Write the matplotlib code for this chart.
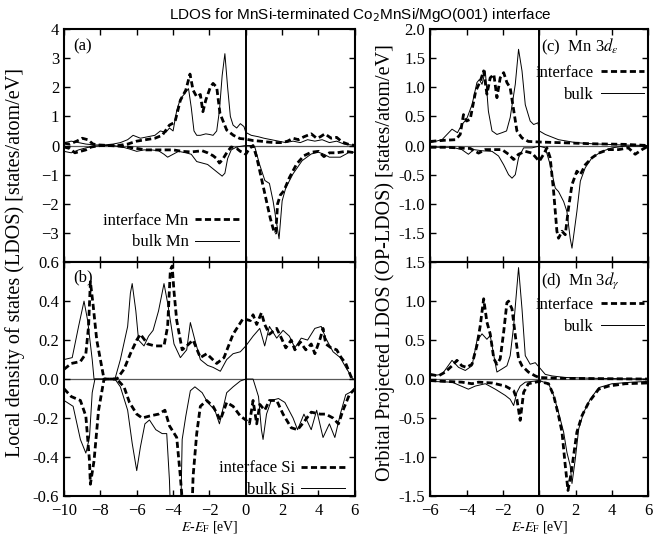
import matplotlib
matplotlib.use('Agg')
import matplotlib.pyplot as plt
import numpy as np

plt.rcParams['font.family'] = ['Liberation Serif', 'DejaVu Serif']
plt.rcParams['mathtext.fontset'] = 'stix'

# ---- (a) Mn LDOS ----
a_int_up_x = [-10, -9.7, -9.3, -9.0, -8.7, -8.4, -8.1, -7.5, -7.0, -6.5, -6.0, -5.5, -5.0, -4.6, -4.2, -3.9,
              -3.6, -3.3, -3.07, -2.9, -2.7, -2.5, -2.36, -2.2, -1.95, -1.8, -1.6, -1.42, -1.05, -0.68, -0.32,
              0.0, 0.4, 0.8, 1.2, 1.6, 2.0, 2.3, 2.6, 2.9, 3.2, 3.6, 3.9, 4.1, 4.35, 4.7, 5.0, 5.3, 5.6, 6.0]
a_int_up_y = [0.08, 0.05, 0.15, 0.25, 0.2, 0.05, 0.02, 0.0, 0.0, 0.05, 0.15, 0.2, 0.25, 0.35, 0.7, 0.8,
              1.55, 1.9, 2.45, 1.9, 1.67, 1.75, 1.16, 1.56, 2.0, 2.13, 2.0, 1.1, 0.53, 0.35, 0.24,
              0.22, 0.17, 0.15, 0.12, 0.1, 0.1, 0.15, 0.25, 0.2, 0.3, 0.4, 0.25, 0.3, 0.4, 0.25, 0.28, 0.12, 0.05, 0.0]
a_blk_up_x = [-10, -9.6, -9.2, -8.8, -8.3, -7.8, -7.3, -6.9, -6.5, -6.2, -5.8, -5.4, -5.0, -4.7, -4.4, -4.2,
              -4.0, -3.8, -3.6, -3.4, -3.15, -3.0, -2.85, -2.7, -2.5, -2.2, -2.0, -1.8, -1.6, -1.45, -1.3,
              -1.15, -1.0, -0.85, -0.7, -0.5, -0.3, -0.1, 0.0, 0.3, 0.7, 1.0, 1.4, 1.8, 2.2, 2.6, 3.0, 3.4,
              3.8, 4.2, 4.6, 5.0, 5.4, 5.8, 6.0]
a_blk_up_y = [0.1, 0.15, 0.1, 0.05, 0.02, 0.02, 0.05, 0.1, 0.2, 0.35, 0.25, 0.3, 0.35, 0.5, 0.45, 0.6,
              0.5, 1.2, 1.6, 1.75, 1.95, 1.3, 0.5, 0.35, 0.35, 0.4, 0.38, 0.35, 0.5, 1.2, 2.4,
              3.15, 2.0, 1.0, 0.7, 0.6, 0.75, 0.65, 0.45, 0.35, 0.3, 0.25, 0.2, 0.15, 0.1, 0.15, 0.1, 0.2,
              0.15, 0.2, 0.1, 0.15, 0.05, 0.02, 0.0]
a_int_dn_x = [-10, -9.7, -9.4, -9.1, -8.8, -8.5, -8.0, -7.5, -7.0, -6.5, -6.0, -5.5, -5.0, -4.5, -4.0, -3.5,
              -3.0, -2.7, -2.4, -2.1, -1.8, -1.6, -1.45, -1.3, -1.0, -0.8, -0.5, -0.3, -0.1, 0.0, 0.2, 0.4,
              0.6, 0.85, 1.1, 1.35, 1.55, 1.65, 1.75, 1.9, 2.1, 2.4, 2.8, 3.2, 3.6, 4.0, 4.3, 4.6, 5.0, 5.5, 6.0]
a_int_dn_y = [-0.05, -0.1, -0.25, -0.2, -0.15, -0.05, 0.0, 0.0, -0.02, -0.05, -0.1, -0.15, -0.15, -0.15, -0.15, -0.2,
              -0.22, -0.2, -0.18, -0.25, -0.35, -0.45, -0.6, -0.5, -0.2, -0.05, -0.1, -0.2, -0.25, -0.3, -0.1, 0.0,
              -0.4, -1.1, -1.8, -2.5, -2.95, -3.0, -2.0, -1.7, -1.55, -1.1, -0.63, -0.35, -0.23, -0.2, -0.38,
              -0.25, -0.25, -0.2, -0.25]
a_blk_dn_x = [-10, -9.6, -9.2, -8.8, -8.3, -7.8, -7.3, -6.8, -6.4, -6.0, -5.6, -5.2, -4.8, -4.5, -4.3, -4.0,
              -3.7, -3.3, -3.0, -2.7, -2.4, -2.1, -1.8, -1.5, -1.3, -1.15, -1.0, -0.8, -0.5, -0.2, 0.0, 0.3,
              0.5, 0.75, 1.05, 1.3, 1.5, 1.68, 1.83, 2.0, 2.2, 2.6, 3.1, 3.6, 4.0, 4.3, 4.6, 5.2, 5.7, 6.0]
a_blk_dn_y = [-0.2, -0.25, -0.15, -0.08, -0.02, 0.0, 0.0, -0.05, -0.12, -0.2, -0.15, -0.15, -0.18, -0.3, -0.4, -0.3,
              -0.2, -0.25, -0.3, -0.55, -0.6, -0.65, -0.8, -0.95, -1.05, -0.95, -0.45, -0.15, -0.05, -0.02, 0.0, 0.0,
              -0.06, -0.63, -1.2, -1.3, -1.9, -2.6, -3.2, -1.9, -1.45, -0.97, -0.52, -0.29, -0.23, -0.3, -0.4,
              -0.4, -0.23, -0.23]

# ---- (b) Si LDOS ----
b_int_up_x = [-10, -9.6, -9.1, -8.8, -8.65, -8.55, -8.4, -8.2, -8.0, -7.8, -7.1, -6.7, -6.35, -6.0, -5.8, -5.4,
              -5.0, -4.5, -4.3, -4.15, -4.05, -3.95, -3.8, -3.5, -3.25, -2.9, -2.5, -2.15, -1.6, -1.2, -0.7,
              -0.15, 0.25, 0.4, 0.6, 0.86, 1.04, 1.3, 1.7, 1.96, 2.2, 2.5, 2.7, 3.0, 3.3, 3.6, 3.8, 4.1, 4.25,
              4.4, 4.7, 5.0, 5.25, 5.5, 5.8, 6.0]
b_int_up_y = [0.05, 0.08, 0.09, 0.13, 0.27, 0.5, 0.38, 0.2, 0.1, 0.0, 0.0, 0.05, 0.13, 0.2, 0.23, 0.18,
              0.17, 0.17, 0.27, 0.56, 0.58, 0.45, 0.3, 0.15, 0.17, 0.2, 0.11, 0.13, 0.08, 0.11, 0.23,
              0.31, 0.3, 0.33, 0.28, 0.34, 0.28, 0.23, 0.26, 0.21, 0.16, 0.2, 0.15, 0.19, 0.15, 0.18, 0.13, 0.21,
              0.26, 0.18, 0.16, 0.15, 0.11, 0.08, 0.01, 0.0]
b_blk_up_x = [-10, -9.55, -9.2, -8.9, -8.7, -8.45, -8.35, -7.2, -6.9, -6.5, -6.35, -6.25, -6.05, -5.9, -5.6,
              -5.35, -5.1, -4.8, -4.5, -4.3, -4.15, -3.95, -3.6, -3.25, -3.05, -2.8, -2.5, -2.1, -1.8, -1.4,
              -1.05, -0.7, -0.3, 0.0, 0.4, 0.77, 1.04, 1.3, 1.7, 2.05, 2.4, 2.7, 3.05, 3.4, 3.8, 4.15, 4.4,
              4.8, 5.2, 5.5, 5.9, 6.0]
b_blk_up_y = [0.1, 0.11, 0.27, 0.4, 0.3, 0.1, 0.0, 0.0, 0.1, 0.27, 0.44, 0.49, 0.35, 0.2, 0.17,
              0.22, 0.25, 0.35, 0.49, 0.39, 0.3, 0.18, 0.11, 0.15, 0.29, 0.2, 0.1, 0.07, 0.06, 0.04,
              0.1, 0.13, 0.14, 0.17, 0.22, 0.26, 0.17, 0.27, 0.21, 0.25, 0.22, 0.16, 0.21, 0.2, 0.26, 0.27, 0.21,
              0.14, 0.11, 0.06, 0.0, 0.0]
b_int_dn_x = [-10, -9.6, -9.1, -8.8, -8.6, -8.55, -8.35, -8.1, -7.8, -7.1, -6.7, -6.4, -6.0, -5.7, -5.3,
              -4.8, -4.45, -4.2, -3.8, -3.6, -3.35, -3.0, -2.9, -2.7, -2.5, -2.15, -1.8, -1.4, -1.05, -0.7,
              -0.3, 0.0, 0.2, 0.4, 0.6, 0.77, 1.04, 1.3, 1.7, 2.05, 2.5, 2.85, 3.2, 3.6, 4.1, 4.4, 4.8,
              5.1, 5.35, 5.7, 6.0]
b_int_dn_y = [-0.05, -0.09, -0.11, -0.19, -0.42, -0.54, -0.42, -0.16, 0.0, 0.0, -0.04, -0.12, -0.18, -0.2, -0.19,
              -0.18, -0.16, -0.24, -0.3, -0.5, -0.8, -0.8, -0.5, -0.28, -0.14, -0.11, -0.14, -0.21, -0.12, -0.14,
              -0.19, -0.21, -0.23, -0.11, -0.23, -0.13, -0.16, -0.11, -0.11, -0.18, -0.25, -0.26, -0.22, -0.17,
              -0.18, -0.18, -0.2, -0.23, -0.16, -0.08, -0.05]
b_blk_dn_x = [-10, -9.5, -9.1, -8.8, -8.6, -8.45, -8.3, -7.2, -6.9, -6.5, -6.25, -6.0, -5.8, -5.55, -5.3,
              -4.95, -4.6, -4.35, -4.2, -4.1, -3.6, -3.5, -3.3, -3.05, -2.8, -2.4, -2.1, -1.7, -1.45, -1.05,
              -0.7, -0.3, 0.0, 0.4, 0.7, 0.86, 0.95, 1.14, 1.4, 1.8, 2.15, 2.6, 2.85, 3.2, 3.6, 3.9, 4.25,
              4.6, 4.9, 5.2, 5.5, 5.9, 6.0]
b_blk_dn_y = [-0.11, -0.14, -0.31, -0.38, -0.3, -0.07, 0.0, 0.0, -0.04, -0.16, -0.33, -0.47, -0.35, -0.23, -0.21,
              -0.26, -0.28, -0.28, -0.52, -0.8, -0.8, -0.31, -0.19, -0.06, -0.04, -0.07, -0.12, -0.16, -0.23, -0.07,
              -0.04, -0.01, 0.0, 0.0, -0.09, -0.26, -0.31, -0.18, -0.11, -0.1, -0.12, -0.2, -0.26, -0.18, -0.26,
              -0.16, -0.3, -0.23, -0.3, -0.18, -0.08, -0.06, -0.05]

# ---- (c) Mn 3d_eps ----
c_int_up_x = [-6, -5.2, -4.6, -4.35, -4.17, -4.0, -3.8, -3.5, -3.25, -3.06, -2.88, -2.7, -2.5, -2.33, -2.15,
              -1.96, -1.78, -1.6, -1.4, -1.23, -0.95, -0.6, 0.0, 1.06, 2.9, 4.7, 6.0]
c_int_up_y = [0.07, 0.09, 0.1, 0.19, 0.53, 0.42, 0.45, 0.93, 1.1, 1.28, 0.88, 1.16, 1.22, 0.82, 1.16,
              1.25, 1.08, 0.99, 0.59, 0.25, 0.13, 0.07, 0.06, 0.05, 0.03, 0.02, 0.0]
c_blk_up_x = [-6, -5.35, -4.8, -4.5, -4.26, -4.0, -3.7, -3.43, -3.3, -3.15, -2.97, -2.8, -2.6, -2.33, -2.05,
              -1.8, -1.6, -1.32, -1.14, -0.95, -0.77, -0.5, -0.31, -0.07, 0.0, 0.33, 1.06, 2.0, 2.9, 4.5, 6.0]
c_blk_up_y = [0.05, 0.1, 0.28, 0.22, 0.36, 0.45, 0.7, 1.08, 1.13, 1.05, 1.28, 0.59, 0.25, 0.19, 0.22,
              0.25, 0.48, 1.05, 1.65, 1.28, 0.7, 0.42, 0.36, 0.39, 0.25, 0.19, 0.1, 0.05, 0.03, 0.01, 0.0]
c_int_dn_x = [-6, -5.2, -4.44, -4.07, -3.8, -3.34, -2.97, -2.6, -2.05, -1.69, -1.41, -1.14, -0.77, -0.4, 0.0,
              0.24, 0.42, 0.6, 0.79, 0.97, 1.06, 1.25, 1.43, 1.61, 1.8, 2.07, 2.26, 2.53, 2.9, 3.27, 3.8,
              4.37, 4.9, 5.28, 5.65, 6.0]
c_int_dn_y = [-0.03, -0.03, -0.04, -0.05, -0.05, -0.13, -0.07, -0.07, -0.07, -0.15, -0.24, -0.15, -0.1, -0.13, -0.27,
              -0.15, -0.04, -0.21, -0.79, -1.47, -1.59, -1.47, -1.53, -1.07, -0.67, -0.44, -0.5, -0.33, -0.21,
              -0.13, -0.07, -0.07, -0.04, -0.15, -0.07, -0.01]
c_blk_dn_x = [-6, -4.8, -4.26, -3.9, -3.6, -3.15, -2.6, -2.24, -1.96, -1.69, -1.5, -1.32, -1.14, -0.86, -0.4,
              0.0, 0.33, 0.6, 0.88, 1.06, 1.34, 1.52, 1.7, 1.8, 2.07, 2.26, 2.53, 2.9, 3.45, 4.0, 4.7, 6.0]
c_blk_dn_y = [-0.03, -0.03, -0.07, -0.15, -0.07, -0.09, -0.1, -0.18, -0.33, -0.5, -0.56, -0.5, -0.21, -0.04, -0.04,
              -0.01, -0.04, -0.33, -0.73, -0.79, -0.96, -1.13, -1.59, -1.76, -1.13, -0.61, -0.38, -0.21, -0.1,
              -0.04, -0.01, -0.01]

# ---- (d) Mn 3d_gamma ----
d_int_up_x = [-6, -5.55, -5.17, -4.8, -4.53, -4.26, -4.0, -3.7, -3.43, -3.25, -3.06, -2.88, -2.7, -2.5, -2.33,
              -2.15, -1.96, -1.78, -1.69, -1.5, -1.32, -1.14, -0.95, -0.6, -0.22, 0.0, 1.06, 6.0]
d_int_up_y = [0.06, 0.04, 0.09, 0.17, 0.24, 0.17, 0.15, 0.19, 0.43, 0.68, 1.03, 0.73, 0.58, 0.26, 0.19,
              0.26, 0.6, 0.98, 1.0, 0.9, 0.56, 0.26, 0.17, 0.09, 0.04, 0.02, 0.01, 0.0]
d_blk_up_x = [-6, -5.35, -4.8, -4.44, -4.07, -3.7, -3.43, -3.15, -2.88, -2.7, -2.5, -2.33, -2.05, -1.78, -1.6,
              -1.41, -1.14, -0.95, -0.77, -0.5, -0.22, 0.0, 0.33, 0.7, 1.43, 2.9, 6.0]
d_blk_up_y = [0.04, 0.06, 0.24, 0.15, 0.11, 0.17, 0.49, 0.58, 0.51, 0.56, 0.3, 0.09, 0.13, 0.17, 0.3,
              0.68, 1.43, 0.9, 0.3, 0.19, 0.21, 0.15, 0.06, 0.04, 0.02, 0.01, 0.0]
d_int_dn_x = [-6, -5.17, -4.26, -3.7, -3.34, -2.6, -1.87, -1.41, -1.23, -1.05, -0.86, -0.6, 0.0, 0.51, 0.79,
              1.06, 1.25, 1.43, 1.58, 1.76, 1.89, 2.07, 2.35, 2.72, 3.27, 3.82, 4.73, 6.0]
d_int_dn_y = [-0.02, -0.03, -0.04, -0.06, -0.04, -0.05, -0.09, -0.15, -0.26, -0.53, -0.17, -0.06, -0.03, -0.06, -0.21,
              -0.47, -0.68, -1.11, -1.43, -1.2, -0.98, -0.68, -0.47, -0.3, -0.13, -0.09, -0.06, -0.05]
d_blk_dn_x = [-6, -4.8, -3.9, -3.52, -2.97, -2.42, -1.87, -1.6, -1.41, -1.23, -1.05, -0.77, 0.0, 0.51, 0.79,
              1.06, 1.34, 1.52, 1.7, 1.8, 1.98, 2.17, 2.44, 2.8, 3.27, 4.0, 5.1, 6.0]
d_blk_dn_y = [-0.03, -0.04, -0.13, -0.09, -0.06, -0.13, -0.21, -0.26, -0.34, -0.17, -0.09, -0.04, -0.02, -0.06, -0.21,
              -0.43, -0.68, -0.94, -1.11, -1.34, -1.03, -0.64, -0.43, -0.26, -0.11, -0.06, -0.04, -0.03]

fig = plt.figure(figsize=(6.67, 5.35), dpi=100)
ax_a = fig.add_axes([0.096, 0.510, 0.436, 0.436])
ax_b = fig.add_axes([0.096, 0.073, 0.436, 0.437])
ax_c = fig.add_axes([0.645, 0.510, 0.327, 0.436])
ax_d = fig.add_axes([0.645, 0.073, 0.327, 0.437])

DASH = dict(color='black', lw=2.0, dashes=(2.2, 1.2))
SOLID = dict(color='black', lw=0.7)


def draw(ax, iux, iuy, idx, idy, bux, buy, bdx, bdy, ilab, blab):
    ax.axhline(0, color='0.35', lw=0.9, zorder=1)
    ax.axvline(0, color='black', lw=1.4, zorder=1)
    hb, = ax.plot(bux, buy, **SOLID)
    ax.plot(bdx, bdy, **SOLID)
    hi, = ax.plot(iux, iuy, **DASH)
    ax.plot(idx, idy, **DASH)
    ax.tick_params(direction='in', top=True, right=True, labelsize=12, length=4, width=1)
    ax.tick_params(axis='x', pad=5)
    for s in ax.spines.values():
        s.set_linewidth(1.5)
    return [hi, hb], [ilab, blab]


leg_a = draw(ax_a, a_int_up_x, a_int_up_y, a_int_dn_x, a_int_dn_y,
             a_blk_up_x, a_blk_up_y, a_blk_dn_x, a_blk_dn_y, 'interface Mn', 'bulk Mn')
leg_b = draw(ax_b, b_int_up_x, b_int_up_y, b_int_dn_x, b_int_dn_y,
             b_blk_up_x, b_blk_up_y, b_blk_dn_x, b_blk_dn_y, 'interface Si', 'bulk Si')
leg_c = draw(ax_c, c_int_up_x, c_int_up_y, c_int_dn_x, c_int_dn_y,
             c_blk_up_x, c_blk_up_y, c_blk_dn_x, c_blk_dn_y, 'interface', 'bulk')
leg_d = draw(ax_d, d_int_up_x, d_int_up_y, d_int_dn_x, d_int_dn_y,
             d_blk_up_x, d_blk_up_y, d_blk_dn_x, d_blk_dn_y, 'interface', 'bulk')

# axes ranges and ticks
ax_a.set_xlim(-10, 6); ax_a.set_ylim(-4, 4)
ax_a.set_xticks(np.arange(-10, 7, 2)); ax_a.set_xticklabels([])
ax_a.set_yticks(np.arange(-3, 5, 1))
ax_b.set_xlim(-10, 6); ax_b.set_ylim(-0.6, 0.6)
ax_b.set_xticks(np.arange(-10, 7, 2))
ax_b.set_yticks(np.round(np.arange(-0.6, 0.61, 0.2), 1))
ax_b.set_yticklabels([f'{v:.1f}' for v in np.arange(-0.6, 0.61, 0.2)])
ax_c.set_xlim(-6, 6); ax_c.set_ylim(-2, 2)
ax_c.set_xticks(np.arange(-6, 7, 2)); ax_c.set_xticklabels([])
ax_c.set_yticks(np.arange(-1.5, 2.01, 0.5))
ax_c.set_yticklabels([f'{v:.1f}' for v in np.arange(-1.5, 2.01, 0.5)])
ax_d.set_xlim(-6, 6); ax_d.set_ylim(-1.5, 1.5)
ax_d.set_xticks(np.arange(-6, 7, 2))
ax_d.set_yticks(np.arange(-1.5, 1.51, 0.5))
ax_d.set_yticklabels([f'{v:.1f}' for v in np.arange(-1.5, 1.51, 0.5)])

for ax in (ax_b, ax_d):
    ax.set_xlabel(r'$E$-$E_{\rm F}$ [eV]', fontsize=10, labelpad=0)

# panel labels
ax_a.text(0.03, 0.96, '(a)', transform=ax_a.transAxes, fontsize=12, va='top')
ax_b.text(0.03, 0.97, '(b)', transform=ax_b.transAxes, fontsize=12, va='top')
ax_c.text(0.51, 0.965, r'(c)  Mn 3$d_{\varepsilon}$', transform=ax_c.transAxes, fontsize=12, va='top')
ax_d.text(0.51, 0.965, r'(d)  Mn 3$d_{\gamma}$', transform=ax_d.transAxes, fontsize=12, va='top')

LEG = dict(frameon=False, markerfirst=False, fontsize=12, handlelength=2.6,
           handletextpad=0.4, labelspacing=0.35, borderaxespad=0, borderpad=0)
ax_a.legend(*leg_a, loc='lower right', bbox_to_anchor=(0.60, 0.05), **LEG)
ax_b.legend(*leg_b, loc='lower right', bbox_to_anchor=(0.965, -0.01), **LEG)
ax_c.legend(*leg_c, loc='upper right', bbox_to_anchor=(0.98, 0.845), **LEG)
ax_d.legend(*leg_d, loc='upper right', bbox_to_anchor=(0.98, 0.85), **LEG)

fig.text(0.022, 0.509, 'Local density of states (LDOS) [states/atom/eV]',
         rotation=90, ha='center', va='center', fontsize=14.5)
fig.text(0.577, 0.509, 'Orbital Projected LDOS (OP-LDOS) [states/atom/eV]',
         rotation=90, ha='center', va='center', fontsize=14.5)
fig.text(0.54, 0.972, r'LDOS for MnSi-terminated Co$_2$MnSi/MgO(001) interface',
         ha='center', va='center', fontsize=11, family=['Liberation Sans', 'DejaVu Sans'],
         math_fontfamily='dejavusans')

fig.savefig('out.png', dpi=100)
